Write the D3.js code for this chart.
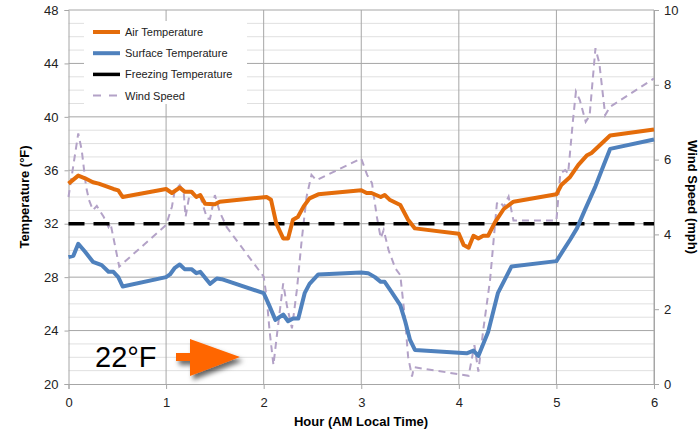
<!DOCTYPE html>
<meta charset="utf-8">
<style>
body { margin: 0; background: #fff; }
text { font-family: "Liberation Sans", Arial, sans-serif; }
.axis-title { font-size: 13px; font-weight: bold; }
.legend text { font-size: 11px; fill: #222; }
</style>
<svg width="700" height="431"></svg>
<script src="https://cdn.jsdelivr.net/npm/d3@7"></script>
<script>

// hours / values
var airHours = [0, 0.10, 0.17, 0.25, 0.31, 0.46, 0.51, 0.555, 1.0, 1.06, 1.14, 1.19, 1.26, 1.31, 1.35, 1.40, 1.50, 1.55, 2.03, 2.075, 2.13, 2.20, 2.25, 2.30, 2.35, 2.41, 2.47, 2.56, 3.0, 3.055, 3.105, 3.20, 3.24, 3.29, 3.40, 3.48, 3.55, 4.0, 4.05, 4.10, 4.15, 4.20, 4.25, 4.30, 4.37, 4.46, 4.56, 5.0, 5.05, 5.14, 5.225, 5.31, 5.36, 5.55, 6.0];
var airTemp = [35.0, 35.6, 35.4, 35.1, 35.0, 34.6, 34.5, 34.0, 34.6, 34.3, 34.7, 34.4, 34.4, 34.0, 34.15, 33.5, 33.45, 33.65, 34.0, 33.8, 32.0, 30.9, 30.9, 32.3, 32.5, 33.3, 33.9, 34.2, 34.5, 34.3, 34.3, 34.0, 34.15, 33.8, 33.4, 32.3, 31.65, 31.25, 30.4, 30.2, 31.1, 30.9, 31.1, 31.1, 32.1, 33.1, 33.65, 34.2, 34.9, 35.5, 36.4, 37.1, 37.3, 38.6, 39.05];

var surfHours = [0, 0.05, 0.10, 0.17, 0.25, 0.34, 0.41, 0.46, 0.51, 0.555, 1.0, 1.04, 1.09, 1.14, 1.19, 1.26, 1.31, 1.35, 1.45, 1.52, 1.57, 2.0, 2.05, 2.12, 2.20, 2.25, 2.30, 2.355, 2.42, 2.47, 2.56, 3.0, 3.07, 3.14, 3.20, 3.24, 3.31, 3.40, 3.45, 3.50, 3.55, 4.08, 4.15, 4.20, 4.30, 4.40, 4.54, 5.0, 5.07, 5.14, 5.21, 5.29, 5.40, 5.48, 5.55, 6.0];
var surfTemp = [29.5, 29.6, 30.5, 29.9, 29.15, 28.9, 28.4, 28.4, 28.0, 27.3, 28.0, 28.2, 28.7, 28.95, 28.6, 28.6, 28.3, 28.4, 27.5, 27.9, 27.85, 26.8, 26.0, 24.8, 25.2, 24.7, 24.9, 24.9, 26.8, 27.5, 28.2, 28.35, 28.3, 28.0, 27.65, 27.65, 26.9, 25.9, 24.7, 23.3, 22.55, 22.3, 22.5, 22.1, 23.9, 26.8, 28.8, 29.2, 30.0, 30.8, 31.65, 33.0, 34.8, 36.3, 37.6, 38.3];

var windHours = [0, 0.10, 0.135, 0.18, 0.21, 0.25, 0.29, 0.36, 0.41, 0.43, 0.52, 1.0, 1.06, 1.09, 1.14, 1.18, 1.20, 1.245, 1.28, 1.35, 1.42, 1.45, 1.50, 1.55, 1.62, 2.0, 2.03, 2.06, 2.10, 2.15, 2.20, 2.24, 2.29, 2.34, 2.39, 2.44, 2.49, 2.54, 3.0, 3.06, 3.11, 3.16, 3.20, 3.23, 3.28, 3.35, 3.40, 3.45, 3.48, 3.52, 3.54, 4.10, 4.16, 4.20, 4.25, 4.32, 4.39, 4.42, 4.46, 4.51, 4.56, 5.0, 5.04, 5.09, 5.12, 5.17, 5.20, 5.24, 5.30, 5.34, 5.40, 5.44, 5.50, 5.55, 6.0];
var windSpeed = [5.0, 6.7, 6.26, 5.28, 4.92, 4.65, 4.76, 4.47, 4.2, 4.3, 3.14, 4.25, 4.74, 5.19, 5.32, 5.14, 4.47, 5.14, 5.05, 5.01, 4.43, 4.41, 5.05, 4.6, 4.2, 2.87, 2.33, 1.44, 0.51, 1.62, 2.69, 2.07, 1.49, 2.51, 3.85, 5.01, 5.59, 5.45, 6.03, 5.59, 5.37, 4.47, 3.9, 4.12, 3.58, 3.09, 2.91, 1.71, 0.73, 0.2, 0.45, 0.22, 1.04, 0.33, 1.44, 2.78, 4.83, 4.88, 4.74, 5.01, 4.37, 4.37, 5.63, 5.72, 5.63, 7.06, 7.82, 7.59, 7.01, 7.17, 8.98, 8.57, 7.19, 7.41, 8.17];

var freezing = 32;
var hourTicks = [0, 1, 2, 3, 4, 5, 6];
var tempTicks = [20, 24, 28, 32, 36, 40, 44, 48];
var windTicks = [0, 2, 4, 6, 8, 10];
var seriesNames = ["Air Temperature", "Surface Temperature", "Freezing Temperature", "Wind Speed"];

var svg = d3.select("svg");
var plotL = 68.5, plotR = 654, plotT = 10, plotB = 384;

var x = d3.scaleLinear().domain([0, 6]).range([plotL, plotR]);
var y = d3.scaleLinear().domain([20, 48]).range([plotB, plotT]);
var yw = d3.scaleLinear().domain([0, 10]).range([plotB, plotT]);

// minor gridlines every 1 degree
svg.append("g").selectAll("line")
  .data(d3.range(21, 48).filter(function(v) { return v % 4 != 0; }))
  .enter().append("line")
    .attr("x1", plotL).attr("x2", plotR)
    .attr("y1", function(d) { return y(d); }).attr("y2", function(d) { return y(d); })
    .attr("stroke", "#e0e0e0").attr("stroke-width", 1);

// major gridlines
svg.append("g").selectAll("line")
  .data(tempTicks.slice(1))
  .enter().append("line")
    .attr("x1", plotL).attr("x2", plotR)
    .attr("y1", function(d) { return y(d); }).attr("y2", function(d) { return y(d); })
    .attr("stroke", "#a6a6a6").attr("stroke-width", 1);

svg.append("g").selectAll("line")
  .data(hourTicks.slice(1))
  .enter().append("line")
    .attr("x1", function(d) { return x(d); }).attr("x2", function(d) { return x(d); })
    .attr("y1", plotT).attr("y2", plotB)
    .attr("stroke", "#a6a6a6").attr("stroke-width", 1);

// axes
var xAxis = svg.append("g").attr("transform", "translate(0," + plotB + ")")
  .call(d3.axisBottom(x).tickValues(hourTicks).tickFormat(d3.format("d")).tickSize(5).tickPadding(6));
var yAxis = svg.append("g").attr("transform", "translate(" + plotL + ",0)")
  .call(d3.axisLeft(y).tickValues(tempTicks).tickSize(4).tickPadding(6));
var ywAxis = svg.append("g").attr("transform", "translate(" + plotR + ",0)")
  .call(d3.axisRight(yw).tickValues(windTicks).tickSize(5).tickPadding(5));

[xAxis, yAxis, ywAxis].forEach(function(a) {
  a.select(".domain").attr("stroke", "#a6a6a6");
  a.selectAll(".tick line").attr("stroke", "#a6a6a6");
  a.selectAll(".tick text").attr("font-size", 13).attr("font-family", "Liberation Sans, Arial, sans-serif").attr("fill", "#222");
});
xAxis.selectAll(".tick text").attr("dy", "0.9em");

// legend background
svg.append("rect").attr("x", 84).attr("y", 21).attr("width", 163).attr("height", 83).attr("fill", "#fff");

// series
var line = d3.line().x(function(d) { return x(d[0]); }).y(function(d) { return y(d[1]); });
var wline = d3.line().x(function(d) { return x(d[0]); }).y(function(d) { return yw(d[1]); });

svg.append("path")
  .datum(d3.zip(windHours, windSpeed))
  .attr("d", wline).attr("fill", "none")
  .attr("stroke", "#b3a2c7").attr("stroke-width", 2).attr("stroke-dasharray", "7,5");

svg.append("path")
  .datum([[0, freezing], [6, freezing]])
  .attr("d", line).attr("fill", "none")
  .attr("stroke", "#000").attr("stroke-width", 3.5).attr("stroke-dasharray", "16,9");

svg.append("path")
  .datum(d3.zip(surfHours, surfTemp))
  .attr("d", line).attr("fill", "none")
  .attr("stroke", "#4f81bd").attr("stroke-width", 4).attr("stroke-linejoin", "round");

svg.append("path")
  .datum(d3.zip(airHours, airTemp))
  .attr("d", line).attr("fill", "none")
  .attr("stroke", "#e46c0a").attr("stroke-width", 4).attr("stroke-linejoin", "round");

// legend
var legStyles = [
  { c: "#e46c0a", w: 4, dash: null },
  { c: "#4f81bd", w: 4, dash: null },
  { c: "#000", w: 3.5, dash: null },
  { c: "#b3a2c7", w: 2, dash: "8,8" }
];
var leg = svg.append("g").attr("class", "legend");
seriesNames.forEach(function(name, i) {
  var yy = 32 + i * 21.2;
  leg.append("line").attr("x1", 93).attr("x2", 120).attr("y1", yy).attr("y2", yy)
    .attr("stroke", legStyles[i].c).attr("stroke-width", legStyles[i].w)
    .attr("stroke-dasharray", legStyles[i].dash);
  leg.append("text").attr("x", 125).attr("y", yy + 4).text(name);
});

// axis titles
svg.append("text").attr("class", "axis-title").attr("x", 361).attr("y", 426)
  .attr("text-anchor", "middle").text("Hour (AM Local Time)");
svg.append("text").attr("class", "axis-title")
  .attr("transform", "translate(29," + y(34) + ") rotate(-90)")
  .attr("text-anchor", "middle").text("Temperature (°F)");
svg.append("text").attr("class", "axis-title")
  .attr("transform", "translate(688," + y(34) + ") rotate(90)")
  .attr("text-anchor", "middle").text("Wind Speed (mph)");

// annotation: 22°F arrow
var defs = svg.append("defs");
var f = defs.append("filter").attr("id", "shadow").attr("x", "-30%").attr("y", "-30%").attr("width", "160%").attr("height", "160%");
f.append("feDropShadow").attr("dx", 3).attr("dy", 4).attr("stdDeviation", 2.5).attr("flood-color", "#000").attr("flood-opacity", 0.6);

svg.append("text").attr("x", 95).attr("y", 367).style("font-size", "29px").attr("fill", "#000").text("22°F");
svg.append("path")
  .attr("d", "M176,353 L190,353 L190,339 L240,357 L190,376 L190,361 L176,361 Z")
  .attr("fill", "#ff6600").attr("filter", "url(#shadow)");

</script>
